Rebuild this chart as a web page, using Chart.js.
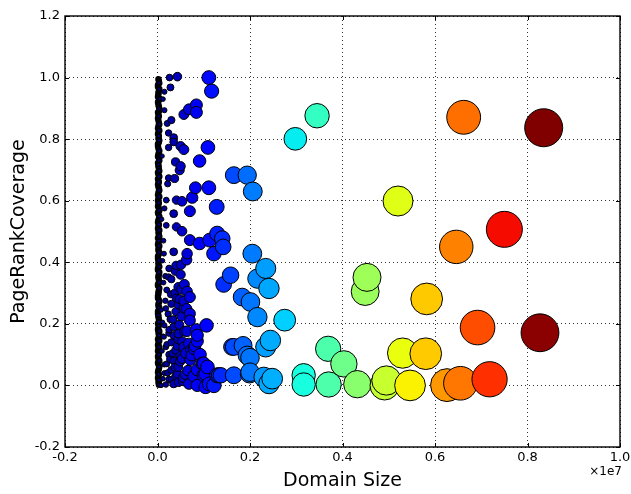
<!DOCTYPE html>
<html>
<head>
<meta charset="utf-8">
<script src="https://cdn.jsdelivr.net/npm/chart.js@4.4.1/dist/chart.umd.min.js"></script>
<style>
  body { margin: 0; background: #fff; }
</style>
</head>
<body>
<canvas id="myChart" width="631" height="494"></canvas>
<script>
// Domain size is in units of 1e7, coverage is a fraction

// big coloured bubbles
const sizeBig = [0.345, 0.298, 0.662, 0.835, 0.520, 0.750, 0.646, 0.453, 0.449, 0.582,
                 0.692, 0.827, 0.275, 0.369, 0.403, 0.530, 0.580, 0.316, 0.316, 0.370,
                 0.432, 0.495, 0.491, 0.546, 0.626, 0.655, 0.718];
const coverBig = [0.876, 0.801, 0.871, 0.837, 0.599, 0.507, 0.450, 0.351, 0.305, 0.281,
                  0.188, 0.171, 0.212, 0.119, 0.070, 0.105, 0.103, 0.033, 0.003, 0.003,
                  0.004, 0.016, 0.000, 0.000, 0.001, 0.007, 0.020];

// light blue ones
const sizeMid = [0.165, 0.194, 0.206, 0.205, 0.234, 0.216, 0.241, 0.158, 0.143, 0.183,
                 0.201, 0.216, 0.244, 0.234, 0.165, 0.185, 0.200, 0.199, 0.165, 0.133,
                 0.230, 0.248, 0.241, 0.161, 0.194, 0.200, 0.128, 0.140, 0.129, 0.142,
                 0.122, 0.137];
const coverMid = [0.683, 0.683, 0.630, 0.428, 0.380, 0.347, 0.315, 0.358, 0.328, 0.287,
                  0.271, 0.222, 0.146, 0.125, 0.125, 0.130, 0.090, 0.038, 0.033, 0.033,
                  0.027, 0.022, 0.006, 0.125, 0.098, 0.043, 0.580, 0.477, 0.493, 0.450,
                  0.428, 0.033];

// blue ones
const sizeBlue = [0.111, 0.117, 0.084, 0.068, 0.084, 0.057, 0.109, 0.091, 0.111, 0.082,
                  0.075, 0.070, 0.113, 0.091, 0.070, 0.064, 0.058, 0.070, 0.057, 0.063,
                  0.070, 0.106, 0.084, 0.064, 0.046, 0.086, 0.073, 0.057, 0.097, 0.071,
                  0.053, 0.086, 0.104, 0.129, 0.078, 0.060, 0.122, 0.104, 0.086, 0.068,
                  0.046, 0.086, 0.079, 0.100, 0.100, 0.112, 0.092, 0.108];
const coverBlue = [1.000, 0.956, 0.911, 0.897, 0.887, 0.880, 0.773, 0.729, 0.642, 0.642,
                   0.610, 0.566, 0.472, 0.461, 0.472, 0.428, 0.328, 0.287, 0.274, 0.249,
                   0.211, 0.195, 0.181, 0.176, 0.168, 0.144, 0.116, 0.125, 0.071, 0.083,
                   0.087, 0.051, 0.038, 0.033, 0.030, 0.036, 0.000, -0.005, 0.000, 0.005,
                   0.011, 0.163, 0.119, 0.071, 0.033, 0.005, 0.100, 0.060];

// packed blue ones at the lower left
const sizeCluster = [0.012, 0.022, 0.031, 0.044, 0.056, 0.066, 0.015, 0.027, 0.038, 0.049,
                     0.061, 0.074, 0.010, 0.020, 0.033, 0.043, 0.054, 0.068, 0.081, 0.014,
                     0.025, 0.036, 0.047, 0.059, 0.070, 0.011, 0.023, 0.034, 0.046, 0.057,
                     0.017, 0.029, 0.041, 0.052, 0.064, 0.013, 0.024, 0.039, 0.051, 0.063];
const coverCluster = [0.022, 0.041, 0.018, 0.036, 0.025, 0.048, 0.068, 0.085, 0.059, 0.078,
                      0.105, 0.098, 0.112, 0.133, 0.104, 0.129, 0.142, 0.136, 0.128, 0.158,
                      0.181, 0.162, 0.197, 0.176, 0.233, 0.205, 0.232, 0.214, 0.262, 0.251,
                      0.275, 0.296, 0.283, 0.312, 0.305, 0.334, 0.352, 0.371, 0.392, 0.408];

// small dark blue ones
const sizeSmall = [0.043, 0.026, 0.028, 0.015, 0.015, 0.030, 0.021, 0.024, 0.035, 0.035,
                   0.050, 0.057, 0.024, 0.039, 0.050, 0.048, 0.037, 0.024, 0.053, 0.041,
                   0.019, 0.035, 0.015, 0.019, 0.041, 0.053, 0.035, 0.014, 0.040, 0.025,
                   0.050, 0.030, 0.045, 0.020, 0.038, 0.048, 0.030, 0.018, 0.040, 0.052,
                   0.028, 0.015, 0.035, 0.025, 0.045, 0.030, 0.018, 0.040, 0.025, 0.050,
                   0.035, 0.020, 0.045, 0.030, 0.015, 0.040, 0.025, 0.055, 0.035, 0.018,
                   0.008, 0.012, 0.010, 0.022, 0.009, 0.013, 0.011, 0.017, 0.008, 0.012];
const coverSmall = [1.003, 1.000, 0.968, 0.954, 0.894, 0.862, 0.851, 0.820, 0.805, 0.791,
                    0.777, 0.766, 0.773, 0.726, 0.712, 0.699, 0.672, 0.674, 0.598, 0.602,
                    0.602, 0.558, 0.575, 0.520, 0.515, 0.501, 0.434, 0.428, 0.390, 0.380,
                    0.360, 0.345, 0.320, 0.310, 0.300, 0.280, 0.265, 0.250, 0.240, 0.225,
                    0.215, 0.195, 0.190, 0.170, 0.150, 0.140, 0.125, 0.115, 0.100, 0.095,
                    0.080, 0.070, 0.060, 0.050, 0.040, 0.030, 0.020, 0.015, 0.005, 0.003,
                    0.000, 0.930, 0.745, 0.655, 0.540, 0.470, 0.405, 0.355, 0.245, 0.160];

// tiny domains piled up along x = 0
const sizeTiny = [0.002, 0.004, 0.001, 0.003, 0.002, 0.005, 0.001, 0.003, 0.004, 0.002,
                  0.001, 0.003, 0.002, 0.004, 0.001, 0.002, 0.003, 0.001, 0.004, 0.002,
                  0.003, 0.001, 0.002, 0.004, 0.002, 0.001, 0.003, 0.002, 0.004, 0.001,
                  0.002, 0.003, 0.001, 0.004, 0.002, 0.003, 0.001, 0.002, 0.004, 0.003,
                  0.001, 0.002, 0.004, 0.002, 0.003, 0.001, 0.002, 0.004, 0.001, 0.003,
                  0.002, 0.004, 0.001, 0.003, 0.002, 0.001, 0.004, 0.002, 0.003, 0.001,
                  0.002, 0.004, 0.003, 0.001, 0.002, 0.003, 0.004, 0.001, 0.002, 0.003,
                  0.001, 0.004, 0.002, 0.003, 0.001, 0.002, 0.004, 0.003];
const coverTiny = [0.995, 0.982, 0.97, 0.957, 0.946, 0.931, 0.92, 0.905, 0.893, 0.88,
                   0.868, 0.853, 0.842, 0.828, 0.817, 0.802, 0.79, 0.778, 0.762, 0.75,
                   0.739, 0.723, 0.712, 0.697, 0.686, 0.671, 0.66, 0.646, 0.634, 0.619,
                   0.608, 0.593, 0.582, 0.568, 0.557, 0.541, 0.53, 0.516, 0.504, 0.49,
                   0.479, 0.464, 0.453, 0.438, 0.427, 0.412, 0.401, 0.386, 0.375, 0.361,
                   0.35, 0.335, 0.324, 0.309, 0.298, 0.284, 0.273, 0.258, 0.247, 0.233,
                   0.222, 0.207, 0.196, 0.182, 0.171, 0.156, 0.145, 0.131, 0.12, 0.105,
                   0.094, 0.08, 0.069, 0.054, 0.043, 0.029, 0.018, 0.006];
const sizeTiny2 = [0.003, 0.001, 0.004, 0.002, 0.001, 0.003, 0.002, 0.004, 0.001, 0.003,
                   0.002, 0.004, 0.001, 0.002, 0.003, 0.004, 0.001, 0.002, 0.003, 0.001,
                   0.004, 0.002, 0.003, 0.001, 0.004, 0.002, 0.001, 0.003, 0.002, 0.004,
                   0.001, 0.002, 0.003, 0.001, 0.004, 0.002, 0.003, 0.001, 0.002, 0.004,
                   0.003, 0.001, 0.002, 0.004, 0.001, 0.003, 0.002, 0.001, 0.004, 0.002,
                   0.003, 0.001, 0.004, 0.002, 0.001, 0.003, 0.002, 0.004, 0.001, 0.002,
                   0.003, 0.001, 0.002, 0.004, 0.003, 0.001, 0.002, 0.004, 0.001, 0.003,
                   0.002, 0.001, 0.004, 0.002, 0.003, 0.001, 0.002, 0.003];
const coverTiny2 = [0.989, 0.976, 0.963, 0.951, 0.938, 0.926, 0.912, 0.899, 0.887, 0.874,
                    0.861, 0.848, 0.835, 0.822, 0.81, 0.796, 0.784, 0.77, 0.757, 0.744,
                    0.731, 0.717, 0.705, 0.692, 0.679, 0.665, 0.653, 0.64, 0.627, 0.613,
                    0.6, 0.588, 0.575, 0.562, 0.549, 0.536, 0.523, 0.51, 0.497, 0.484,
                    0.471, 0.458, 0.445, 0.432, 0.419, 0.406, 0.393, 0.38, 0.368, 0.355,
                    0.342, 0.329, 0.316, 0.303, 0.291, 0.278, 0.265, 0.252, 0.24, 0.227,
                    0.214, 0.201, 0.188, 0.176, 0.163, 0.15, 0.138, 0.125, 0.112, 0.1,
                    0.087, 0.074, 0.061, 0.049, 0.036, 0.024, 0.012, 0.002];

const xTicks = [-0.2, 0.0, 0.2, 0.4, 0.6, 0.8, 1.0];
const yTicks = [-0.2, 0.0, 0.2, 0.4, 0.6, 0.8, 1.0, 1.2];

const domainSize = [].concat(sizeTiny, sizeTiny2, sizeSmall, sizeCluster, sizeBlue, sizeMid, sizeBig);
const pageRankCoverage = [].concat(coverTiny, coverTiny2, coverSmall, coverCluster, coverBlue, coverMid, coverBig);

const points = domainSize.map((x, i) => ({ x: x, y: pageRankCoverage[i] }));
points.sort((a, b) => a.x - b.x); // bigger ones drawn last

// matplotlib "jet" colormap
const jetR = [[0, 0], [0.35, 0], [0.66, 1], [0.89, 1], [1, 0.5]];
const jetG = [[0, 0], [0.125, 0], [0.375, 1], [0.64, 1], [0.91, 0], [1, 0]];
const jetB = [[0, 0.5], [0.11, 1], [0.34, 1], [0.65, 0], [1, 0]];
function seg(s, t) {
    for (let i = 1; i < s.length; i++) {
        if (t <= s[i][0]) {
            const f = (t - s[i - 1][0]) / (s[i][0] - s[i - 1][0]);
            return s[i - 1][1] + f * (s[i][1] - s[i - 1][1]);
        }
    }
    return s[s.length - 1][1];
}
function jet(t) {
    t = Math.min(1, Math.max(0, t));
    return 'rgb(' + Math.round(255 * seg(jetR, t)) + ',' + Math.round(255 * seg(jetG, t)) + ',' + Math.round(255 * seg(jetB, t)) + ')';
}
const maxSize = Math.max(...domainSize);

const fmt = v => (Math.abs(v) < 1e-9 ? '0.0' : v.toFixed(1));

const framePlugin = {
    id: 'frame',
    afterDraw(chart) {
        const { ctx, chartArea: a, scales } = chart;
        ctx.save();
        ctx.strokeStyle = '#000';
        ctx.lineWidth = 1;
        ctx.beginPath();
        xTicks.forEach(v => {
            const px = Math.round(scales.x.getPixelForValue(v)) + 0.5;
            ctx.moveTo(px, a.bottom); ctx.lineTo(px, a.bottom - 4);
            ctx.moveTo(px, a.top); ctx.lineTo(px, a.top + 4);
        });
        yTicks.forEach(v => {
            const py = Math.round(scales.y.getPixelForValue(v)) + 0.5;
            ctx.moveTo(a.left, py); ctx.lineTo(a.left + 4, py);
            ctx.moveTo(a.right, py); ctx.lineTo(a.right - 4, py);
        });
        ctx.stroke();
        ctx.lineWidth = 1.4;
        ctx.strokeRect(a.left, a.top, a.right - a.left, a.bottom - a.top);
        ctx.fillStyle = '#000';
        ctx.font = '12px "DejaVu Sans"';
        ctx.textAlign = 'right';
        ctx.textBaseline = 'middle';
        ctx.fillText('\u00d71e7', a.right + 2, a.bottom + 25);
        ctx.restore();
    }
};

Chart.defaults.font.family = '"DejaVu Sans", sans-serif';
Chart.defaults.color = '#000';

const ctx = document.getElementById('myChart').getContext('2d');
const myChart = new Chart(ctx, {
    type: 'scatter',
    data: {
        datasets: [{
            label: 'domains',
            data: points,
            pointRadius: c => Math.max(2.2, 20.8 * Math.sqrt(Math.max(0, c.raw.x))),
            pointBackgroundColor: c => jet(c.raw.x / maxSize),
            pointBorderColor: '#000',
            pointBorderWidth: c => (c.raw.x < 0.006 ? 2 : 1)
        }]
    },
    options: {
        responsive: false,
        animation: false,
        events: [],
        layout: { autoPadding: false, padding: { top: 16, right: 11, left: 0, bottom: 0 } },
        plugins: {
            legend: { display: false },
            tooltip: { enabled: false }
        },
        scales: {
            x: {
                type: 'linear',
                min: -0.2,
                max: 1.0,
                afterFit: s => { s.height = 47; s.paddingLeft = 0; s.paddingRight = 0; },
                afterBuildTicks: s => { s.ticks = xTicks.map(v => ({ value: v })); },
                ticks: { callback: fmt, font: { size: 13 }, padding: 3, maxRotation: 0 },
                grid: { color: '#000', lineWidth: 0.8, drawTicks: false },
                border: { display: false, dash: [1, 3] },
                title: { display: true, text: 'Domain Size', font: { size: 19 }, padding: { top: 0, bottom: 2 } }
            },
            y: {
                type: 'linear',
                min: -0.2,
                max: 1.2,
                afterFit: s => { s.width = 65; s.paddingTop = 0; s.paddingBottom = 0; },
                afterBuildTicks: s => { s.ticks = yTicks.map(v => ({ value: v })); },
                ticks: { callback: fmt, font: { size: 13 }, padding: 5 },
                grid: { color: '#000', lineWidth: 0.8, drawTicks: false },
                border: { display: false, dash: [1, 3] },
                title: { display: true, text: 'PageRankCoverage', font: { size: 19 }, padding: { top: 8, bottom: 0 } }
            }
        }
    },
    plugins: [framePlugin]
});
</script>
</body>
</html>
